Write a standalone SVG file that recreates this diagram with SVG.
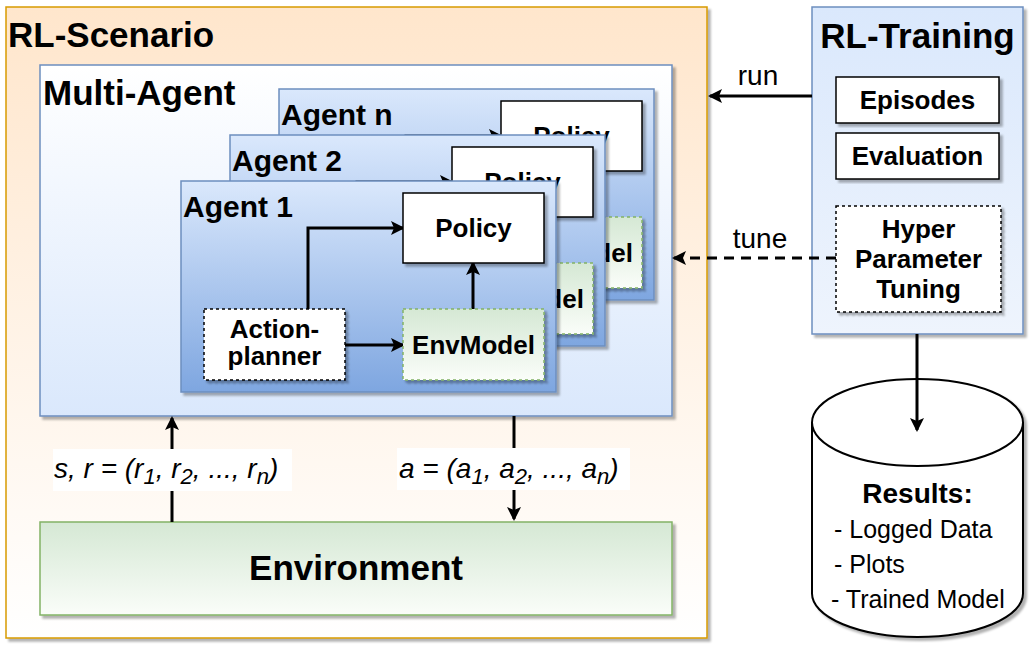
<svg xmlns="http://www.w3.org/2000/svg" width="1032" height="647" viewBox="0 0 1032 647">
<defs>
<linearGradient id="gScen" x1="0" y1="0" x2="0" y2="1"><stop offset="0" stop-color="#ffe6cc"/><stop offset="1" stop-color="#ffffff"/></linearGradient>
<linearGradient id="gMulti" x1="0" y1="0" x2="0" y2="1"><stop offset="0" stop-color="#ffffff"/><stop offset="1" stop-color="#dae8fc"/></linearGradient>
<linearGradient id="gAgent" x1="0" y1="0" x2="0" y2="1"><stop offset="0" stop-color="#dae8fc"/><stop offset="1" stop-color="#7ea6e0"/></linearGradient>
<linearGradient id="gGreen" x1="0" y1="0" x2="0" y2="1"><stop offset="0" stop-color="#d5e8d4"/><stop offset="1" stop-color="#fafdf9"/></linearGradient>
<linearGradient id="gTrain" x1="0" y1="0" x2="0" y2="1"><stop offset="0" stop-color="#dae8fc"/><stop offset="1" stop-color="#eef4fd"/></linearGradient>
<filter id="sh" x="-5%" y="-5%" width="115%" height="115%"><feDropShadow dx="3" dy="3" stdDeviation="0.8" flood-color="#000" flood-opacity="0.3"/></filter>
<marker id="ah" markerWidth="15" markerHeight="15" refX="12" refY="7" orient="auto" markerUnits="userSpaceOnUse"><path d="M0,0 L14,7 L0,14 L3,7 z" fill="#000"/></marker>
<style>
text{font-family:"Liberation Sans",Arial,sans-serif;fill:#000}
.title{font-size:35px;font-weight:bold}
.agentT{font-size:30px;font-weight:bold}
.lbl{font-size:26px;font-weight:bold;text-anchor:middle}
.blue{stroke:#6c8ebf;stroke-width:1.5}
.box{fill:#fff;stroke:#000;stroke-width:1.5}
.dbox{fill:#fff;stroke:#000;stroke-width:1.5;stroke-dasharray:3 3}
.dgreen{fill:url(#gGreen);stroke:#82b366;stroke-width:1.5;stroke-dasharray:3 3}
.con{fill:none;stroke:#000;stroke-width:3;marker-end:url(#ah)}
.it{font-size:28px;font-style:italic}
.reg{font-size:25px}
.edge{font-size:28px}
</style>
</defs>
<rect width="1032" height="647" fill="#fff"/>

<g id="rl-scenario">
<rect x="6" y="7" width="701" height="631" fill="url(#gScen)" stroke="#d79b00" stroke-width="1.5" filter="url(#sh)"/>
<text class="title" x="8" y="47">RL-Scenario</text>
</g>

<g id="multi-agent">
<rect x="40" y="65" width="632" height="351" fill="url(#gMulti)" class="blue" filter="url(#sh)"/>
<text class="title" x="43" y="105">Multi-Agent</text>
</g>

<g id="agent-n" transform="translate(98,-92)">
<rect x="181" y="181" width="375" height="211" fill="url(#gAgent)" class="blue" filter="url(#sh)"/>
<text class="agentT" x="183" y="217">Agent n</text>
<g class="connectors">
<path class="con" d="M308,309 V228 H403"/>
<path class="con" d="M473,309 V263"/>
</g>
<rect class="box" x="403" y="193" width="141" height="70" filter="url(#sh)"/>
<text class="lbl" x="473.5" y="237">Policy</text>
<rect class="dgreen" x="403" y="309" width="141" height="71" filter="url(#sh)"/>
<text class="lbl" x="473.5" y="354">EnvModel</text>
</g>

<g id="agent-2" transform="translate(49,-46)">
<rect x="181" y="181" width="375" height="211" fill="url(#gAgent)" class="blue" filter="url(#sh)"/>
<text class="agentT" x="183" y="217">Agent 2</text>
<g class="connectors">
<path class="con" d="M308,309 V228 H403"/>
<path class="con" d="M473,309 V263"/>
</g>
<rect class="box" x="403" y="193" width="141" height="70" filter="url(#sh)"/>
<text class="lbl" x="473.5" y="237">Policy</text>
<rect class="dgreen" x="403" y="309" width="141" height="71" filter="url(#sh)"/>
<text class="lbl" x="473.5" y="354">EnvModel</text>
</g>

<g id="agent-1">
<rect x="181" y="181" width="375" height="211" fill="url(#gAgent)" class="blue" filter="url(#sh)"/>
<text class="agentT" x="183" y="217">Agent 1</text>
<g class="connectors">
<path class="con" d="M308,309 V228 H403"/>
<path class="con" d="M345,345 H403"/>
<path class="con" d="M473,309 V263"/>
</g>
<g id="policy-1">
<rect class="box" x="403" y="193" width="141" height="70" filter="url(#sh)"/>
<text class="lbl" x="473.5" y="237">Policy</text>
</g>
<g id="envmodel-1">
<rect class="dgreen" x="403" y="309" width="141" height="71" filter="url(#sh)"/>
<text class="lbl" x="473.5" y="354">EnvModel</text>
</g>
<g id="action-planner-1">
<rect class="dbox" x="204" y="309" width="141" height="71" filter="url(#sh)"/>
<text class="lbl" x="274.5" y="338">Action-</text>
<text class="lbl" x="274.5" y="365">planner</text>
</g>
</g>

<g id="environment">
<rect x="40" y="522" width="632" height="93" fill="url(#gGreen)" stroke="#82b366" stroke-width="1.5" filter="url(#sh)"/>
<text x="356" y="580" font-size="35" font-weight="bold" text-anchor="middle">Environment</text>
</g>

<g id="rl-training">
<rect x="812" y="7" width="211" height="327" fill="url(#gTrain)" class="blue" filter="url(#sh)"/>
<text class="title" x="917.5" y="48" text-anchor="middle">RL-Training</text>
</g>
<g id="episodes">
<rect class="box" x="836" y="77" width="163" height="46" filter="url(#sh)"/>
<text class="lbl" x="917.5" y="109">Episodes</text>
</g>
<g id="evaluation">
<rect class="box" x="836" y="133" width="163" height="46" filter="url(#sh)"/>
<text class="lbl" x="917.5" y="165">Evaluation</text>
</g>
<g id="hyper-parameter-tuning">
<rect class="dbox" x="836" y="206" width="165" height="106" filter="url(#sh)"/>
<text class="lbl" x="918.5" y="238">Hyper</text>
<text class="lbl" x="918.5" y="268">Parameter</text>
<text class="lbl" x="918.5" y="298">Tuning</text>
</g>

<g id="results">
<path d="M812,422.5 V593.5 A105.5,43.5 0 0 0 1023,593.5 V422.5 A105.5,43.5 0 0 0 812,422.5 Z" fill="#fff" stroke="#000" stroke-width="2" filter="url(#sh)"/>
<path d="M812,422.5 A105.5,43.5 0 0 0 1023,422.5" fill="none" stroke="#000" stroke-width="2"/>
<text x="917.5" y="503" font-size="28" font-weight="bold" text-anchor="middle">Results:</text>
<text class="reg" x="834" y="538">- Logged Data</text>
<text class="reg" x="834" y="573">- Plots</text>
<text class="reg" x="831" y="608">- Trained Model</text>
</g>

<g id="connectors">
<path class="con" d="M812,96 H710"/>
<path class="con" d="M836,258 H674" stroke-dasharray="10 7"/>
<path class="con" d="M917,334 V430"/>
<path class="con" d="M172,522 V418"/>
<path class="con" d="M514,416 V519"/>
<rect x="53" y="449" width="239" height="42" fill="#fff"/>
<text class="it" x="54" y="478">s, r = (r<tspan font-size="22" dy="6">1</tspan><tspan dy="-6">, r</tspan><tspan font-size="22" dy="6">2</tspan><tspan dy="-6">, ..., r</tspan><tspan font-size="22" dy="6">n</tspan><tspan dy="-6">)</tspan></text>
<rect x="397" y="448" width="233" height="42" fill="#fff"/>
<text class="it" x="399" y="478">a = (a<tspan font-size="22" dy="6">1</tspan><tspan dy="-6">, a</tspan><tspan font-size="22" dy="6">2</tspan><tspan dy="-6">, ..., a</tspan><tspan font-size="22" dy="6">n</tspan><tspan dy="-6">)</tspan></text>
<text class="edge" x="758" y="85" text-anchor="middle">run</text>
<text class="edge" x="760" y="248" text-anchor="middle">tune</text>
</g>
</svg>
